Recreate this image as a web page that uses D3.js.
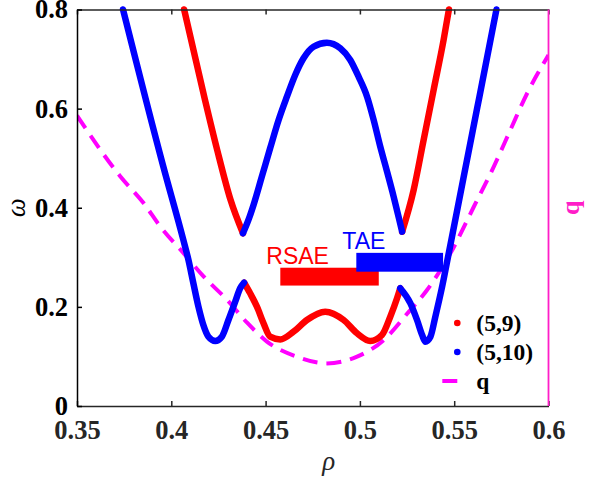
<!DOCTYPE html>
<html>
<head>
<meta charset="utf-8">
<script src="https://cdn.jsdelivr.net/npm/d3@7"></script>
<style>
  body { margin: 0; background: #fff; }
  svg { display: block; }
  .serif { font-family: "Liberation Serif", "Times New Roman", "DejaVu Serif", serif; }
  .sans { font-family: "Liberation Sans", Arial, sans-serif; }
</style>
</head>
<body>
<div id="chart"></div>
<script>
// ---- data: [rho, omega] ----
var xTicks = [0.35, 0.4, 0.45, 0.5, 0.55, 0.6];
var yTicks = [0, 0.2, 0.4, 0.6, 0.8];

// (5,9) branches, red
var red_upperLeft = [[0.4068,0.800],[0.4179,0.617],[0.4243,0.517],[0.4314,0.416],[0.4380,0.3485]];
var red_upperRight = [[0.5224,0.3517],[0.5285,0.436],[0.5338,0.537],[0.5391,0.638],[0.5444,0.739],[0.5472,0.800]];
var red_lower = [[0.4386,0.2488],[0.4418,0.2274],[0.4454,0.2004],[0.4489,0.1669],[0.4524,0.1398],[0.4578,0.1342],
  [0.4648,0.1499],[0.4719,0.1735],[0.4816,0.1903],[0.4914,0.1735],[0.4985,0.1467],[0.5055,0.1312],
  [0.5117,0.1433],[0.5161,0.1802],[0.5197,0.2173],[0.5214,0.2375]];

// (5,10) branches, blue
var blue_upper = [[0.4380,0.3485],[0.4409,0.3753],[0.4436,0.4056],[0.4480,0.4627],[0.4524,0.5200],[0.4569,0.5771],
  [0.4613,0.6241],[0.4657,0.6679],[0.4701,0.7016],[0.4754,0.7250],[0.4825,0.7330],[0.4896,0.7218],
  [0.4949,0.6982],[0.4993,0.6644],[0.5038,0.6241],[0.5073,0.5771],[0.5108,0.5232],[0.5144,0.4728],
  [0.5179,0.4223],[0.5205,0.3820],[0.5224,0.3517]];
var blue_lowerLeft = [[0.3744,0.800],[0.3957,0.484],[0.4064,0.3349],[0.4091,0.2946],[0.4117,0.2476],
  [0.4144,0.2003],[0.4170,0.1634],[0.4197,0.1398],[0.4233,0.1312],[0.4268,0.1398],[0.4303,0.1735],
  [0.4339,0.2105],[0.4365,0.2375],[0.4386,0.2488]];
var blue_lowerRight = [[0.5214,0.2375],[0.5268,0.2072],[0.5303,0.1735],[0.5330,0.1433],[0.5347,0.1297],
  [0.5374,0.1398],[0.5400,0.1802],[0.5436,0.2407],[0.5471,0.3081],[0.5549,0.460],[0.5623,0.6033],
  [0.5676,0.7062],[0.5724,0.800]];

// safety factor q (right axis, no ticks shown)
var qCurve = [[0.35,0.586],[0.373,0.463],[0.3854,0.409],[0.3942,0.362],[0.4066,0.308],[0.4172,0.261],[0.4296,0.214],
  [0.4402,0.168],[0.4507,0.130],[0.4666,0.0995],[0.4825,0.086],[0.4985,0.0995],[0.5126,0.133],[0.525,0.186],
  [0.5356,0.234],[0.548,0.308],[0.5604,0.402],[0.571,0.483],[0.5798,0.557],[0.5887,0.631],[0.6,0.708]];

// gap bands
var bands = [
  {name:"RSAE", color:"#ff0000", rho:[0.4578,0.5100], omega:[0.243,0.279]},
  {name:"TAE",  color:"#0000ff", rho:[0.4981,0.5441], omega:[0.271,0.309]}
];

var legendItems = [
  {label:"(5,9)", color:"#ff0000", type:"dot"},
  {label:"(5,10)", color:"#0000ff", type:"dot"},
  {label:"q", color:"#ff00ff", type:"dash"}
];

// ---- layout ----
var W = 592, H = 487;
var margin = {left:77, right:43.5, top:9.5, bottom:81};
var w = W - margin.left - margin.right;
var h = H - margin.top - margin.bottom;
var pink = "#ff1ec8";

var svg = d3.select("#chart").append("svg").attr("width", W).attr("height", H);
var g = svg.append("g").attr("transform", "translate(" + margin.left + "," + margin.top + ")");

var x = d3.scaleLinear().domain([0.35, 0.6]).range([0, w]);
var y = d3.scaleLinear().domain([0, 0.8]).range([h, 0]);
var yq = d3.scaleLinear().domain([0, 0.8]).range([h, 0]);

g.append("clipPath").attr("id", "clip").append("rect")
  .attr("x", 0).attr("y", -4).attr("width", w).attr("height", h + 4);

var plot = g.append("g").attr("clip-path", "url(#clip)");

var line = d3.line().x(d => x(d[0])).y(d => y(d[1])).curve(d3.curveMonotoneX);
var qLine = d3.line().x(d => x(d[0])).y(d => yq(d[1])).curve(d3.curveMonotoneX);

// q dashed
plot.append("path").attr("d", qLine(qCurve))
  .attr("fill", "none").attr("stroke", "#ff00ff").attr("stroke-width", 4)
  .attr("stroke-dasharray", "15,9");

// bands
plot.selectAll("rect.band").data(bands).enter().append("rect")
  .attr("class", "band")
  .attr("x", d => x(d.rho[0]))
  .attr("width", d => x(d.rho[1]) - x(d.rho[0]))
  .attr("y", d => y(d.omega[1]))
  .attr("height", d => y(d.omega[0]) - y(d.omega[1]))
  .attr("fill", d => d.color);

// continuum branches
var branches = [
  {pts:red_upperLeft, c:"#ff0000"}, {pts:red_upperRight, c:"#ff0000"}, {pts:red_lower, c:"#ff0000"},
  {pts:blue_upper, c:"#0000ff"}, {pts:blue_lowerLeft, c:"#0000ff"}, {pts:blue_lowerRight, c:"#0000ff"}
];
plot.selectAll("path.branch").data(branches).enter().append("path")
  .attr("class", "branch")
  .attr("d", d => line(d.pts))
  .attr("fill", "none").attr("stroke", d => d.c)
  .attr("stroke-width", 6.5).attr("stroke-linecap", "round").attr("stroke-linejoin", "round");

// band labels
g.selectAll("text.bandlabel").data(bands).enter().append("text")
  .attr("class", "bandlabel sans")
  .attr("x", d => x(d.rho[0]) - 14)
  .attr("y", d => y(d.omega[1]) - 4)
  .attr("fill", d => d.color)
  .style("font-size", "23px")
  .text(d => d.name);

// ---- axes ----
var xAxis = d3.axisBottom(x).tickValues(xTicks).tickSizeInner(-5).tickSizeOuter(0).tickPadding(14)
  .tickFormat(d => d3.format("")(+d.toFixed(2)));
var gx = g.append("g").attr("transform", "translate(0," + h + ")").call(xAxis);
gx.attr("font-family", null);
gx.select(".domain").attr("stroke", "#262626").attr("stroke-width", 1.5);
gx.selectAll(".tick line").attr("stroke", "#262626").attr("stroke-width", 1.5);
gx.selectAll(".tick text").attr("class", "serif").attr("fill", "#262626")
  .style("font-size", "26.5px").style("font-weight", "bold");

var xTop = d3.axisTop(x).tickValues(xTicks).tickSizeInner(-5).tickSizeOuter(0).tickFormat("");
var gxt = g.append("g").call(xTop);
gxt.select(".domain").attr("stroke", "#262626").attr("stroke-width", 1.5);
gxt.selectAll(".tick line").attr("stroke", "#262626").attr("stroke-width", 1.5);

var yAxis = d3.axisLeft(y).tickValues(yTicks).tickSizeInner(-5).tickSizeOuter(0).tickPadding(9)
  .tickFormat(d => d3.format("")(+d.toFixed(1)));
var gy = g.append("g").call(yAxis);
gy.attr("font-family", null);
gy.select(".domain").attr("stroke", "#000").attr("stroke-width", 1.5);
gy.selectAll(".tick line").attr("stroke", "#000").attr("stroke-width", 1.5);
gy.selectAll(".tick text").attr("class", "serif").attr("fill", "#000")
  .style("font-size", "26.5px").style("font-weight", "bold");

// right q axis, no ticks
g.append("line").attr("x1", w).attr("x2", w).attr("y1", 0).attr("y2", h)
  .attr("stroke", pink).attr("stroke-width", 1.8);

// axis labels
g.append("text").attr("class", "serif").attr("x", x(0.4835)).attr("y", h + 64).attr("text-anchor", "middle")
  .style("font-style", "italic").style("font-size", "27px").attr("fill", "#262626")
  .text("ρ");
g.append("text").attr("class", "serif").attr("transform", "translate(" + (-52) + "," + y(0.4) + ") rotate(-90)")
  .attr("text-anchor", "middle")
  .style("font-style", "italic").style("font-size", "27px").attr("fill", "#000")
  .text("ω");
g.append("text").attr("class", "serif").attr("transform", "translate(" + (w + 30) + "," + y(0.4) + ") rotate(-90)")
  .attr("text-anchor", "middle")
  .style("font-weight", "bold").style("font-size", "26px").attr("fill", pink)
  .text("q");

// ---- legend ----
var leg = g.append("g").attr("transform", "translate(" + (457.3 - margin.left) + "," + (323 - margin.top) + ")");
var items = leg.selectAll("g").data(legendItems).enter().append("g")
  .attr("transform", (d, i) => "translate(0," + (i * 29) + ")");
items.filter(d => d.type === "dot").append("circle").attr("r", 3.3).attr("fill", d => d.color);
items.filter(d => d.type === "dash").append("line")
  .attr("x1", -15).attr("x2", 0).attr("stroke", d => d.color).attr("stroke-width", 4);
items.append("text").attr("class", "serif").attr("x", 19).attr("dy", "0.33em")
  .style("font-weight", "bold").style("font-size", "23.5px").attr("fill", "#000")
  .text(d => d.label);
</script>
</body>
</html>
